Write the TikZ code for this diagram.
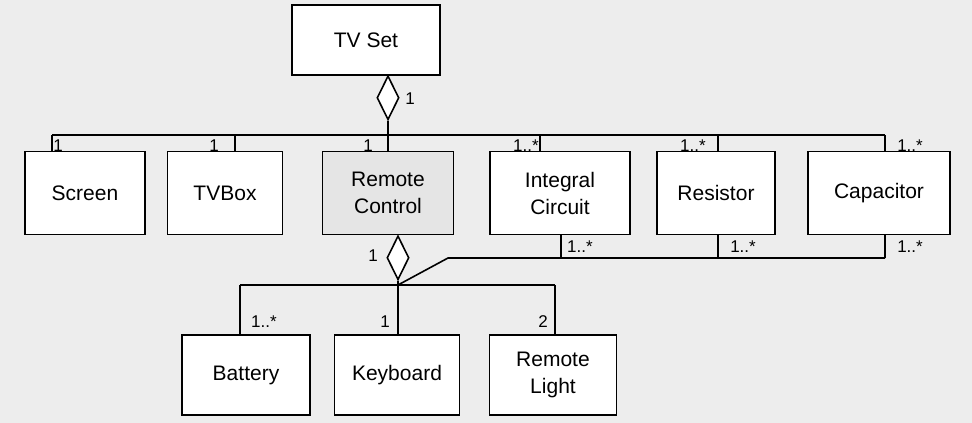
\documentclass[tikz,border=0pt]{standalone}
\usepackage{fontspec}
\setmainfont{Liberation Sans}
\usetikzlibrary{shapes.geometric}
\begin{document}
\begin{tikzpicture}[x=1pt,y=-1pt,
  box/.style={draw,line width=1.6pt,fill=#1,align=center,font=\fontsize{21}{27}\selectfont,inner sep=0pt},
  box/.default=white,
  ln/.style={line width=1.6pt},
  dia/.style={draw,diamond,line width=1.6pt,fill=white,minimum width=22pt,minimum height=44pt,inner sep=0pt},
  lab/.style={font=\fontsize{17}{19}\selectfont,inner sep=1pt}]
\fill[white!93!black] (0,0) rectangle (972,423);
\node[box,minimum width=148pt,minimum height=70pt] (tv) at (366,40) {TV Set};
\node[box,minimum width=120pt,minimum height=83pt] (scr) at (85,193) {Screen};
\node[box,minimum width=115pt,minimum height=83pt] (tvb) at (225,193) {TVBox};
\node[box=white!90!black,minimum width=131pt,minimum height=83pt] (rc) at (388,193) {Remote\\Control};
\node[box,minimum width=140pt,minimum height=83pt] (ic) at (560,193) {Integral\\Circuit};
\node[box,minimum width=118pt,minimum height=83pt] (res) at (716,193) {Resistor};
\node[box,minimum width=142pt,minimum height=83pt] (cap) at (879,193) {Capacitor};
\node[box,minimum width=128pt,minimum height=80pt] (bat) at (246,375) {Battery};
\node[box,minimum width=125pt,minimum height=80pt] (key) at (397,375) {Keyboard};
\node[box,minimum width=127pt,minimum height=80pt] (rl) at (553,375) {Remote\\Light};
\node[dia,anchor=north] (d1) at (388,75) {};
\node[dia,anchor=north] (d2) at (398,235) {};
\coordinate (j1) at (388,135);
\coordinate (j2) at (398,285);
\coordinate (k) at (448,258);
\draw[ln] (d1.south) -- (j1);
\draw[ln] (52,135) -- (885,135);
\foreach \x/\n in {52/scr,235/tvb,388/rc,540/ic,718/res,885/cap}
  \draw[ln] (\x,135) -- (\x,151.5);
\draw[ln] (d2.south) -- (j2);
\draw[ln] (240,285) -- (555,285);
\draw[ln] (240,285) -- (240,335);
\draw[ln] (398,285) -- (398,335);
\draw[ln] (555,285) -- (555,335);
\draw[ln] (j2) -- (k) -- (885,258);
\foreach \x in {561,718,885} \draw[ln] (\x,234.5) -- (\x,258);
\node[lab] at (410,99) {1};
\node[lab] at (58,146) {1};
\node[lab] at (214,146) {1};
\node[lab] at (368,146) {1};
\node[lab] at (526,146) {1..*};
\node[lab] at (693,146) {1..*};
\node[lab] at (910,146) {1..*};
\node[lab] at (373,256) {1};
\node[lab] at (580,247) {1..*};
\node[lab] at (743,247) {1..*};
\node[lab] at (910,247) {1..*};
\node[lab] at (264,322) {1..*};
\node[lab] at (385,322) {1};
\node[lab] at (543,322) {2};
\end{tikzpicture}
\end{document}
